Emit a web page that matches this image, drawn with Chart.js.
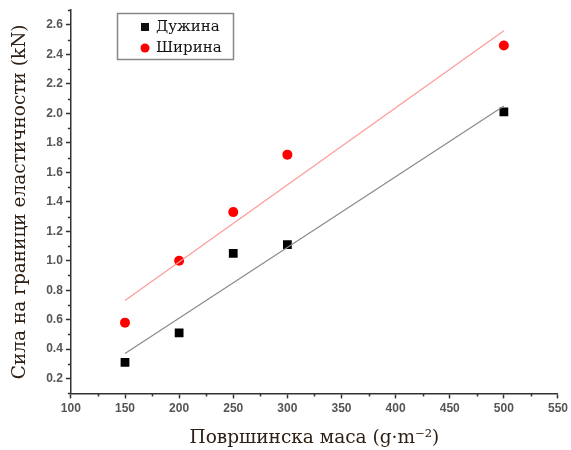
<!DOCTYPE html>
<html>
<head>
<meta charset="utf-8">
<script src="https://cdn.jsdelivr.net/npm/chart.js@4"></script>
<style>
  html, body { margin: 0; padding: 0; background: #fff; }
  #wrap { width: 571px; height: 450px; }
</style>
</head>
<body>
<div id="wrap"><canvas id="chart" width="571" height="450"></canvas></div>
<script>
// данни прочетени од графикот
const masses = [150, 200, 250, 300, 500];
const lengthVals = [0.31, 0.51, 1.05, 1.11, 2.01];
const widthVals = [0.58, 1.00, 1.33, 1.72, 2.46];

// линии на фитување (краеви прочитани од сликата)
const fitX = [150, 500];
const lengthFit = [0.37, 2.05];
const widthFit = [0.73, 2.56];

const xTicks = [100, 150, 200, 250, 300, 350, 400, 450, 500, 550];
const yTicks = [0.2, 0.4, 0.6, 0.8, 1.0, 1.2, 1.4, 1.6, 1.8, 2.0, 2.2, 2.4, 2.6];
const xMinor = [125, 175, 225, 275, 325, 375, 425, 475, 525];
const yMinor = [0.1, 0.3, 0.5, 0.7, 0.9, 1.1, 1.3, 1.5, 1.7, 1.9, 2.1, 2.3, 2.5, 2.7];

const seriesNames = ['Дужина', 'Ширина'];

const toPoints = (xs, ys) => xs.map((x, i) => ({ x: x, y: ys[i] }));

// мали поделци и легенда
const extrasPlugin = {
  id: 'extras',
  afterDraw(chart) {
    const ctx = chart.ctx;
    const xs = chart.scales.x;
    const ys = chart.scales.y;
    ctx.save();
    ctx.strokeStyle = '#333';
    ctx.lineWidth = 1.5;
    ctx.beginPath();
    xMinor.forEach(v => {
      const px = Math.round(xs.getPixelForValue(v)) + 0.5;
      ctx.moveTo(px, xs.top);
      ctx.lineTo(px, xs.top + 3);
    });
    yMinor.forEach(v => {
      const py = Math.round(ys.getPixelForValue(v)) + 0.5;
      ctx.moveTo(ys.right, py);
      ctx.lineTo(ys.right - 3, py);
    });
    ctx.stroke();

    // легенда
    const bx = 117.5, by = 13.5, bw = 116, bh = 46;
    ctx.fillStyle = '#fff';
    ctx.fillRect(bx, by, bw, bh);
    ctx.strokeStyle = '#888';
    ctx.lineWidth = 1.5;
    ctx.strokeRect(bx, by, bw, bh);
    ctx.font = '15px "DejaVu Serif", serif';
    ctx.textBaseline = 'middle';
    ctx.fillStyle = '#111';
    ctx.fillRect(145 - 4, 27 - 4, 8, 8);
    ctx.fillText(seriesNames[0], 156, 27);
    ctx.fillStyle = '#ff0000';
    ctx.beginPath();
    ctx.arc(145, 48, 4.5, 0, Math.PI * 2);
    ctx.fill();
    ctx.fillStyle = '#111';
    ctx.fillText(seriesNames[1], 156, 48);
    ctx.restore();
  }
};

const tickFont = { family: '"Liberation Sans", Arial, sans-serif', size: 12, weight: 'bold' };
const titleFont = { family: '"DejaVu Serif", "Liberation Serif", serif', size: 18.5 };

new Chart(document.getElementById('chart').getContext('2d'), {
  type: 'scatter',
  data: {
    datasets: [
      {
        label: seriesNames[0] + ' fit',
        data: toPoints(fitX, lengthFit),
        showLine: true,
        borderColor: '#8a8a8a',
        borderWidth: 1.2,
        pointRadius: 0
      },
      {
        label: seriesNames[1] + ' fit',
        data: toPoints(fitX, widthFit),
        showLine: true,
        borderColor: '#ff9a9a',
        borderWidth: 1.2,
        pointRadius: 0
      },
      {
        label: seriesNames[0],
        data: toPoints(masses, lengthVals),
        pointStyle: 'rect',
        pointRadius: 6.2,
        backgroundColor: '#000',
        borderColor: '#000',
        borderWidth: 0
      },
      {
        label: seriesNames[1],
        data: toPoints(masses, widthVals),
        pointStyle: 'circle',
        pointRadius: 5,
        backgroundColor: '#ff0000',
        borderColor: '#ff0000',
        borderWidth: 0
      }
    ]
  },
  options: {
    responsive: false,
    animation: false,
    layout: { padding: { top: 3, right: 8, left: 9, bottom: 1 } },
    plugins: {
      legend: { display: false },
      tooltip: { enabled: false }
    },
    scales: {
      x: {
        type: 'linear',
        min: 100,
        max: 550,
        afterBuildTicks: s => { s.ticks = xTicks.map(v => ({ value: v })); },
        grid: { drawOnChartArea: false, drawTicks: true, tickLength: 5, tickColor: '#333', tickWidth: 1.5 },
        border: { display: true, color: '#333', width: 1.5 },
        ticks: { color: '#555', font: tickFont, padding: 3, maxRotation: 0 },
        title: { display: true, text: 'Површинска маса (g·m⁻²)', color: '#2e2015', font: titleFont, padding: { top: 8, bottom: 0 } }
      },
      y: {
        type: 'linear',
        min: 0.1,
        max: 2.7,
        afterBuildTicks: s => { s.ticks = yTicks.map(v => ({ value: v })); },
        grid: { drawOnChartArea: false, drawTicks: true, tickLength: 5, tickColor: '#333', tickWidth: 1.5 },
        border: { display: true, color: '#333', width: 1.5 },
        ticks: { color: '#555', font: tickFont, padding: 3, callback: v => v.toFixed(1) },
        title: { display: true, text: 'Сила на граници еластичности (kN)', color: '#2e2015', font: titleFont, padding: { top: 0, bottom: 12 } }
      }
    }
  },
  plugins: [extrasPlugin]
});
</script>
</body>
</html>
